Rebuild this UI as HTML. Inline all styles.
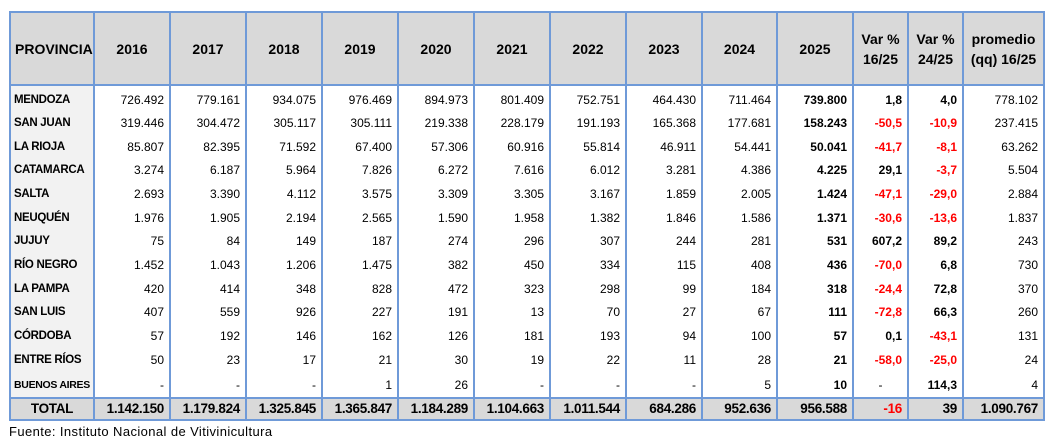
<!DOCTYPE html>
<html><head><meta charset="utf-8"><style>
body{margin:0;background:#fff;width:1057px;height:447px;position:relative;font-family:"Liberation Sans",sans-serif;}
table{position:absolute;left:9px;top:11px;border-collapse:collapse;table-layout:fixed;width:1034px;}
td,th{padding:0 5px;font-size:12px;color:#000;text-align:right;white-space:nowrap;overflow:hidden;}
thead th{height:71px;background:#d9d9d9;font-size:14px;font-weight:bold;text-align:center;border:2px solid #6f9ad8;line-height:20px;}
thead th:first-child{text-align:left;padding-left:4px;}
tbody td{height:23.7px;border-left:2px solid #6f9ad8;border-right:2px solid #6f9ad8;}
tbody tr:first-child td{padding-top:3px;height:22px;}
tbody tr:last-child td{height:23px;padding-top:2px;}
tbody td:first-child{text-align:left;font-weight:bold;background:#f2f2f2;font-size:11.5px;padding-left:3px;letter-spacing:-0.3px;}
td.b{font-weight:bold}
.r{color:#ff0000}
tfoot td{height:20px;background:#d9d9d9;font-weight:bold;font-size:13.5px;border:2px solid #6f9ad8;letter-spacing:-0.3px;}
tfoot td:first-child{text-align:center;}
.src{position:absolute;left:9px;top:424px;font-size:13px;letter-spacing:0.4px;}
</style></head><body>
<table>
<colgroup><col style="width:84px"><col style="width:76px"><col style="width:76px"><col style="width:76px"><col style="width:76px"><col style="width:76px"><col style="width:76px"><col style="width:76px"><col style="width:76px"><col style="width:75px"><col style="width:76px"><col style="width:55px"><col style="width:55px"><col style="width:81px"></colgroup>
<thead><tr><th>PROVINCIA</th><th>2016</th><th>2017</th><th>2018</th><th>2019</th><th>2020</th><th>2021</th><th>2022</th><th>2023</th><th>2024</th><th>2025</th><th>Var %<br>16/25</th><th>Var %<br>24/25</th><th>promedio<br>(qq) 16/25</th></tr></thead>
<tbody>
<tr><td>MENDOZA</td><td>726.492</td><td>779.161</td><td>934.075</td><td>976.469</td><td>894.973</td><td>801.409</td><td>752.751</td><td>464.430</td><td>711.464</td><td class="b">739.800</td><td class="b">1,8</td><td class="b">4,0</td><td>778.102</td></tr>
<tr><td>SAN JUAN</td><td>319.446</td><td>304.472</td><td>305.117</td><td>305.111</td><td>219.338</td><td>228.179</td><td>191.193</td><td>165.368</td><td>177.681</td><td class="b">158.243</td><td class="b r">-50,5</td><td class="b r">-10,9</td><td>237.415</td></tr>
<tr><td>LA RIOJA</td><td>85.807</td><td>82.395</td><td>71.592</td><td>67.400</td><td>57.306</td><td>60.916</td><td>55.814</td><td>46.911</td><td>54.441</td><td class="b">50.041</td><td class="b r">-41,7</td><td class="b r">-8,1</td><td>63.262</td></tr>
<tr><td>CATAMARCA</td><td>3.274</td><td>6.187</td><td>5.964</td><td>7.826</td><td>6.272</td><td>7.616</td><td>6.012</td><td>3.281</td><td>4.386</td><td class="b">4.225</td><td class="b">29,1</td><td class="b r">-3,7</td><td>5.504</td></tr>
<tr><td>SALTA</td><td>2.693</td><td>3.390</td><td>4.112</td><td>3.575</td><td>3.309</td><td>3.305</td><td>3.167</td><td>1.859</td><td>2.005</td><td class="b">1.424</td><td class="b r">-47,1</td><td class="b r">-29,0</td><td>2.884</td></tr>
<tr><td>NEUQUÉN</td><td>1.976</td><td>1.905</td><td>2.194</td><td>2.565</td><td>1.590</td><td>1.958</td><td>1.382</td><td>1.846</td><td>1.586</td><td class="b">1.371</td><td class="b r">-30,6</td><td class="b r">-13,6</td><td>1.837</td></tr>
<tr><td>JUJUY</td><td>75</td><td>84</td><td>149</td><td>187</td><td>274</td><td>296</td><td>307</td><td>244</td><td>281</td><td class="b">531</td><td class="b">607,2</td><td class="b">89,2</td><td>243</td></tr>
<tr><td>RÍO NEGRO</td><td>1.452</td><td>1.043</td><td>1.206</td><td>1.475</td><td>382</td><td>450</td><td>334</td><td>115</td><td>408</td><td class="b">436</td><td class="b r">-70,0</td><td class="b">6,8</td><td>730</td></tr>
<tr><td>LA PAMPA</td><td>420</td><td>414</td><td>348</td><td>828</td><td>472</td><td>323</td><td>298</td><td>99</td><td>184</td><td class="b">318</td><td class="b r">-24,4</td><td class="b">72,8</td><td>370</td></tr>
<tr><td>SAN LUIS</td><td>407</td><td>559</td><td>926</td><td>227</td><td>191</td><td>13</td><td>70</td><td>27</td><td>67</td><td class="b">111</td><td class="b r">-72,8</td><td class="b">66,3</td><td>260</td></tr>
<tr><td>CÓRDOBA</td><td>57</td><td>192</td><td>146</td><td>162</td><td>126</td><td>181</td><td>193</td><td>94</td><td>100</td><td class="b">57</td><td class="b">0,1</td><td class="b r">-43,1</td><td>131</td></tr>
<tr><td>ENTRE RÍOS</td><td>50</td><td>23</td><td>17</td><td>21</td><td>30</td><td>19</td><td>22</td><td>11</td><td>28</td><td class="b">21</td><td class="b r">-58,0</td><td class="b r">-25,0</td><td>24</td></tr>
<tr><td style="font-size:10.5px">BUENOS AIRES</td><td>-</td><td>-</td><td>-</td><td>1</td><td>26</td><td>-</td><td>-</td><td>-</td><td>5</td><td class="b">10</td><td style="text-align:center">-</td><td class="b">114,3</td><td>4</td></tr>
</tbody>
<tfoot><tr><td>TOTAL</td><td>1.142.150</td><td>1.179.824</td><td>1.325.845</td><td>1.365.847</td><td>1.184.289</td><td>1.104.663</td><td>1.011.544</td><td>684.286</td><td>952.636</td><td>956.588</td><td class="r">-16</td><td>39</td><td>1.090.767</td></tr></tfoot>
</table>
<div class="src">Fuente: Instituto Nacional de Vitivinicultura</div>
</body></html>
